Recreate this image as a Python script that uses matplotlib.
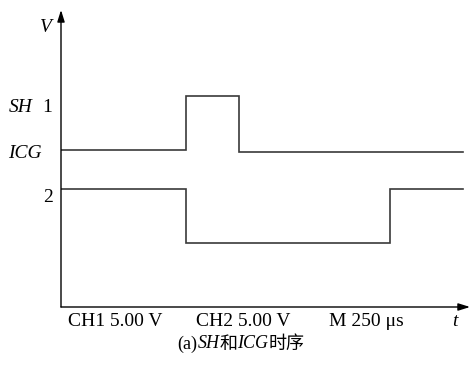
import matplotlib
matplotlib.use("Agg")
import matplotlib.pyplot as plt

# time axis in arbitrary units (0..409), voltage in arbitrary units (0..297)
sh_t = [0, 125, 125, 178, 178, 402]
sh_v = [157, 157, 211, 211, 155.5, 155.5]
icg_t = [0, 125, 125, 329, 329, 402]
icg_v = [118.5, 118.5, 64, 64, 118.5, 118.5]

bottom_labels = ["CH1 5.00 V", "CH2 5.00 V", "M 250 \u03bcs"]
bottom_x = [54, 182, 305]

W, H = 472, 366
fig = plt.figure(figsize=(W / 100, H / 100), dpi=100)
ax = fig.add_axes([61 / W, (H - 307) / H, 409 / W, 297 / H])
ax.set_xlim(0, 409)
ax.set_ylim(0, 297)
ax.axis("off")

serif = ["Liberation Serif", "DejaVu Serif"]
cjk = ["Noto Sans CJK SC", "DejaVu Sans"]
line_c = "#3a3a3a"

ax.plot(sh_t, sh_v, color=line_c, lw=1.2, solid_joinstyle="miter")
ax.plot(icg_t, icg_v, color=line_c, lw=1.2, solid_joinstyle="miter")

# axes with arrows
arr = dict(arrowstyle="-|>,head_length=0.7,head_width=0.22", color="black", lw=1.0,
           shrinkA=0, shrinkB=0)
ax.annotate("", xy=(409, 0), xytext=(0, 0), arrowprops=arr, annotation_clip=False)
ax.annotate("", xy=(0, 297), xytext=(0, 0), arrowprops=arr, annotation_clip=False)

fs = 14
ax.text(-15, 279, "V", fontsize=fs, style="italic", family=serif, ha="center", va="center")
ax.text(-40, 199, "SH", fontsize=fs, style="italic", family=serif, ha="center", va="center")
ax.text(-14, 199, "1", fontsize=fs, family=serif, ha="center", va="center")
ax.text(-36, 154, "ICG", fontsize=fs, style="italic", family=serif, ha="center", va="center")
ax.text(-13, 109, "2", fontsize=fs, family=serif, ha="center", va="center")

for lab, x in zip(bottom_labels, bottom_x):
    ax.text(x, -15, lab, fontsize=fs, family=serif, ha="center", va="center")
ax.text(394, -15, "t", fontsize=fs, style="italic", family=serif, ha="center", va="center")

# caption: mixed upright / italic / CJK pieces laid out side by side
pieces = [("(a)", "normal", serif), ("SH", "italic", serif), ("和", "normal", cjk),
          ("ICG", "italic", serif), ("时序", "normal", cjk)]
cfs = 13
renderer = fig.canvas.get_renderer()
texts = []
total = 0
for s, st, fam in pieces:
    t = fig.text(0, 0, s, fontsize=cfs, style=st, family=fam, va="center")
    w = t.get_window_extent(renderer).width
    texts.append((t, w))
    total += w
x0 = 241 - total / 2
for t, w in texts:
    t.set_position((x0 / W, 1 - 344 / H))
    x0 += w

fig.savefig("out.png", dpi=100)
